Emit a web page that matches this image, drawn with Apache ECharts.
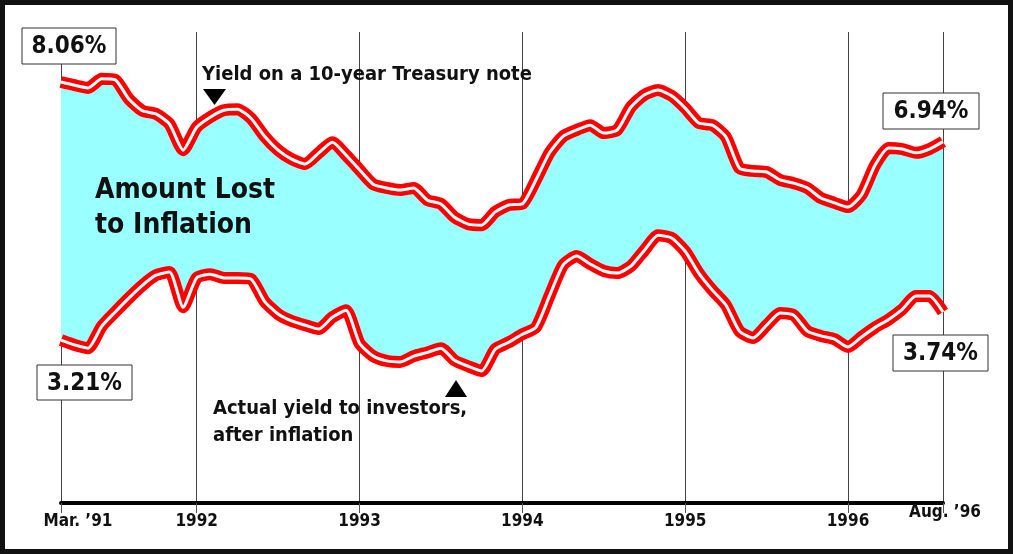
<!DOCTYPE html>
<html>
<head>
<meta charset="utf-8">
<script src="https://cdn.jsdelivr.net/npm/echarts@6/dist/echarts.min.js"></script>
<style>
  html, body { margin: 0; padding: 0; background: #fff; }
  #chart { width: 1013px; height: 554px; }
</style>
</head>
<body>
<div id="chart"></div>
<script>
// monthly categories, Mar. 1991 .. Aug. 1996
const months = []
for (let y = 1991; y <= 1996; y++) {
  for (let m = 1; m <= 12; m++) {
    if ((y === 1991 && m < 3) || (y === 1996 && m > 8)) continue
    months.push(y + '-' + String(m).padStart(2, '0'))
  }
}

// yield on a 10-year Treasury note (%)
const treasuryYield = [
  8.06, 8.00, 7.95, 8.12, 8.10, 7.74, 7.52, 7.46, 7.27, 6.78,
  7.21, 7.40, 7.53, 7.55, 7.38, 7.04, 6.78, 6.61, 6.52, 6.73,
  6.93, 6.69, 6.41, 6.14, 6.07, 6.03, 6.07, 5.84, 5.77, 5.52,
  5.39, 5.37, 5.62, 5.75, 5.77, 6.22, 6.73, 7.04, 7.16, 7.25,
  7.10, 7.16, 7.59, 7.82, 7.91, 7.80, 7.57, 7.29, 7.25, 7.03,
  6.44, 6.39, 6.37, 6.22, 6.16, 6.07, 5.88, 5.79, 5.71, 5.94,
  6.50, 6.82, 6.80, 6.73, 6.80, 6.94
]

// actual yield to investors, after inflation (%)
const realYield = [
  3.21, 3.12, 3.06, 3.47, 3.74, 4.00, 4.24, 4.43, 4.49, 3.83,
  4.38, 4.45, 4.38, 4.38, 4.36, 3.94, 3.70, 3.57, 3.49, 3.42,
  3.64, 3.77, 3.15, 2.91, 2.82, 2.80, 2.91, 2.98, 3.06, 2.83,
  2.72, 2.63, 3.04, 3.17, 3.32, 3.45, 4.04, 4.62, 4.79, 4.64,
  4.51, 4.47, 4.60, 4.90, 5.18, 5.13, 4.88, 4.47, 4.15, 3.87,
  3.38, 3.25, 3.49, 3.72, 3.68, 3.38, 3.29, 3.23, 3.08, 3.27,
  3.45, 3.60, 3.79, 4.04, 4.04, 3.74
]

// ticks / labels on the time axis
const tickMonths = ['1991-03', '1992-01', '1993-01', '1994-01', '1995-01', '1996-01', '1996-08']
const tickLabels = ['Mar. \u201991', '1992', '1993', '1994', '1995', '1996', 'Aug. \u201996']

const gap = treasuryYield.map((v, i) => +(v - realYield[i]).toFixed(2))

const FONT = "'DejaVu Sans Condensed', 'Liberation Sans Narrow', sans-serif"
const isTick = (idx, val) => tickMonths.includes(val !== undefined ? val : months[idx])

const chart = echarts.init(document.getElementById('chart'))

const box = (x, y, w, h, text) => [
  {
    type: 'rect', z: 100,
    shape: { x: x, y: y, width: w, height: h },
    style: { fill: '#fff', stroke: '#333', lineWidth: 1 }
  },
  {
    type: 'text', z: 101,
    style: {
      text: text, x: x + w / 2, y: y + h / 2 + 1,
      textAlign: 'center', textVerticalAlign: 'middle',
      font: 'bold 24px ' + FONT, fill: '#111'
    }
  }
]

const label = (x, y, text, size) => ({
  type: 'text', z: 100,
  style: {
    text: text, x: x, y: y,
    textAlign: 'left', textVerticalAlign: 'middle',
    font: 'bold ' + size + 'px ' + FONT, fill: '#111'
  }
})

const smooth = 0.2
const tickFont = { fontFamily: FONT, fontWeight: 'bold', fontSize: 17, color: '#111' }

const option = {
  animation: false,
  backgroundColor: '#fff',
  grid: { left: 61, right: 70, top: 32, bottom: 51 },
  xAxis: {
    type: 'category',
    boundaryGap: false,
    data: months,
    axisLine: { lineStyle: { color: '#000', width: 4 } },
    axisTick: {
      show: true,
      interval: (idx, val) => isTick(idx, val),
      length: 10,
      lineStyle: { color: '#555', width: 1 }
    },
    axisLabel: {
      interval: (idx, val) => isTick(idx, val),
      showMinLabel: true,
      showMaxLabel: true,
      margin: 1,
      formatter: (val) => {
        const k = tickMonths.indexOf(val)
        if (k < 0) return ''
        if (k === 0) return '{first|' + tickLabels[k] + '}'
        if (k === tickMonths.length - 1) return '{last|' + tickLabels[k] + '}'
        return '{yr|' + tickLabels[k] + '}'
      },
      rich: {
        yr: { ...tickFont, padding: [9, 0, 0, 0] },
        first: { ...tickFont, padding: [9, 0, 0, 34] },
        last: { ...tickFont, padding: [0, 0, 0, 4] }
      }
    },
    splitLine: {
      show: true,
      interval: (idx, val) => isTick(idx, val),
      lineStyle: { color: '#444', width: 1 }
    }
  },
  yAxis: {
    type: 'value',
    min: 0.15,
    max: 9,
    show: false
  },
  graphic: [
    {
      type: 'rect', z: 200,
      shape: { x: 2.5, y: 2.5, width: 1008, height: 549 },
      style: { fill: 'none', stroke: '#111', lineWidth: 5 }
    },
    ...box(22, 28, 94, 36, '8.06%'),
    ...box(883, 93, 96, 36, '6.94%'),
    ...box(37, 365, 95, 35, '3.21%'),
    ...box(893, 335, 95, 36, '3.74%'),
    label(202, 75, 'Yield on a 10-year Treasury note', 20),
    {
      type: 'polygon', z: 100,
      shape: { points: [[203, 89], [226, 89], [214.5, 105]] },
      style: { fill: '#000' }
    },
    label(95, 191, 'Amount Lost', 28),
    label(95, 226, 'to Inflation', 28),
    label(213, 409, 'Actual yield to investors,', 20),
    label(213, 436, 'after inflation', 20),
    {
      type: 'polygon', z: 100,
      shape: { points: [[445, 397], [467, 397], [456, 380]] },
      style: { fill: '#000' }
    }
  ],
  series: [
    {
      name: 'base',
      type: 'line',
      stack: 'band',
      data: realYield,
      smooth: smooth,
      showSymbol: false,
      lineStyle: { width: 0, opacity: 0 },
      z: 1
    },
    {
      name: 'Amount Lost to Inflation',
      type: 'line',
      stack: 'band',
      data: gap,
      smooth: smooth,
      showSymbol: false,
      lineStyle: { width: 0, opacity: 0 },
      areaStyle: { color: '#99ffff', opacity: 1 },
      z: 1
    },
    {
      name: 'Treasury red',
      type: 'line',
      data: treasuryYield,
      smooth: smooth,
      showSymbol: false,
      lineStyle: { color: '#ff0000', width: 12 },
      z: 3
    },
    {
      name: 'Real red',
      type: 'line',
      data: realYield,
      smooth: smooth,
      showSymbol: false,
      lineStyle: { color: '#ff0000', width: 12 },
      z: 3
    },
    {
      name: 'Treasury white',
      type: 'line',
      data: treasuryYield,
      smooth: smooth,
      showSymbol: false,
      lineStyle: { color: '#ffffff', width: 3 },
      z: 4
    },
    {
      name: 'Real white',
      type: 'line',
      data: realYield,
      smooth: smooth,
      showSymbol: false,
      lineStyle: { color: '#ffffff', width: 3 },
      z: 4
    }
  ]
}

chart.setOption(option)

window.addEventListener('resize', () => {
  chart.resize()
})
</script>
</body>
</html>
